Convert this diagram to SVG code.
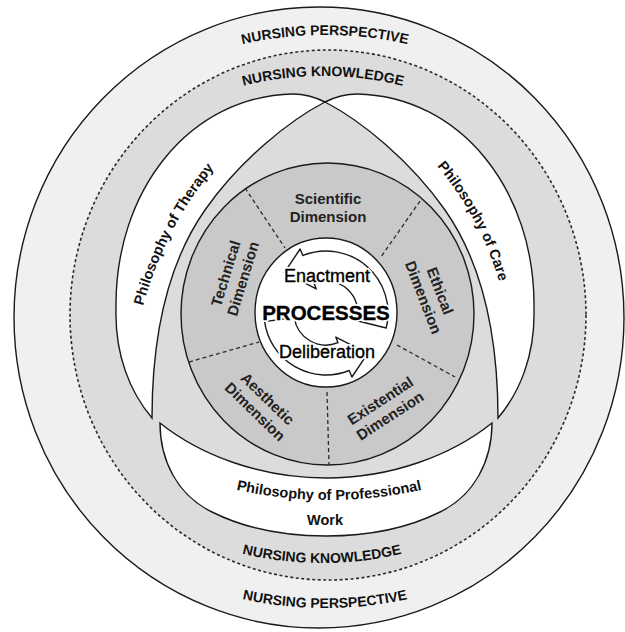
<svg xmlns="http://www.w3.org/2000/svg" width="625" height="632" viewBox="0 0 625 632">
<defs>
<style>
.ln{stroke:#1a1a1a;stroke-width:1.4;}
.dash{fill:none;stroke:#2a2a2a;stroke-width:1.3;stroke-dasharray:4 3;}
.lab{font-family:"Liberation Sans",Arial,sans-serif;font-weight:bold;font-size:14px;fill:#111;}
.phil{font-family:"Liberation Sans",Arial,sans-serif;font-weight:bold;font-size:14.5px;fill:#111;}
.dim{font-family:"Liberation Sans",Arial,sans-serif;font-weight:bold;font-size:15px;fill:#222;text-anchor:middle;}
.proc{font-family:"Liberation Sans",Arial,sans-serif;fill:#000;text-anchor:middle;stroke:#000;stroke-width:0.35;}
.halo{font-family:"Liberation Sans",Arial,sans-serif;fill:#fff;text-anchor:middle;stroke:#fff;stroke-width:4;stroke-linejoin:round;}
.arrow{fill:#fff;stroke:#1a1a1a;stroke-width:1.4;stroke-linejoin:round;}
</style>
<path id="pTopPer" d="M200,56.4 A375,375 0 0 1 450,56.4"/>
<path id="pTopKno" d="M198,100.6 A330,330 0 0 1 448,100.6"/>
<path id="pBotKno" d="M197,539.6 A345,345 0 0 0 447,539.6"/>
<path id="pBotPer" d="M200,587.3 A387,387 0 0 0 450,587.3"/>
<path id="pTher" d="M143,306 Q165,227 215,167 L240,137"/>
<path id="pCare" d="M437,166 Q484,222 502,292 L509,320"/>
<path id="pWork" d="M215,484.6 A431,431 0 0 0 443,484.6"/>
</defs>

<g id="nursing-perspective">
<ellipse cx="319" cy="317.5" rx="305" ry="310.5" fill="#f0f0f0" class="ln"/>
</g>
<g id="nursing-knowledge">
<ellipse cx="328" cy="315" rx="258" ry="265" fill="#dcdcdc" stroke="#2a2a2a" stroke-width="1.6" stroke-dasharray="3 2.5"/>
</g>

<g id="philosophy-therapy">
<path class="ln" fill="#fff" d="M152,418 C130,392 115,355 116,310 C114,190 190,96 293,94 Q309,94 325,102 C290,120 240,160 205,210 C170,260 152,330 152,418 Z"/>
</g>
<g id="philosophy-care">
<path class="ln" fill="#fff" d="M498,418 C520,392 535,355 534,310 C536,190 460,96 357,94 Q341,94 325,102 C360,120 410,160 445,210 C480,260 498,330 498,418 Z"/>
</g>
<g id="philosophy-work">
<path class="ln" fill="#fff" d="M160,423 C200,455 260,478 326,478 C392,478 452,455 492,423 C492,460 475,495 440,512 C410,527 370,536 326,536 C282,536 242,527 212,512 C177,495 160,460 160,423 Z"/>
</g>

<g id="dimensions">
<ellipse cx="327.5" cy="314" rx="146.5" ry="151" fill="#c9c9c9" class="ln"/>
<line class="dash" x1="245" y1="188" x2="285" y2="248"/>
<line class="dash" x1="420" y1="201" x2="381" y2="257"/>
<line class="dash" x1="189" y1="362" x2="259" y2="342"/>
<line class="dash" x1="397" y1="345" x2="455" y2="377"/>
<line class="dash" x1="327" y1="392" x2="329" y2="465"/>
</g>

<g id="processes">
<ellipse cx="326" cy="312.5" rx="71" ry="74.5" fill="#fff" class="ln"/>
</g>

<g id="connectors">
<path class="arrow" d="M386.2,328 A62,62 0 0 0 302.8,255.5 L300.1,249 L284.3,272.7 L316.3,288.9 L314,283.3 A32,32 0 0 1 357,320.7 Z"/>
<path class="arrow" d="M264.6,321.6 A62,62 0 0 0 349.2,370.5 L351.9,377 L367.7,353.3 L335.8,337.1 L338,342.7 A32,32 0 0 1 294.3,317.5 Z"/>
</g>

<g id="labels-perspective">
<text class="lab"><textPath href="#pTopPer" startOffset="50%" text-anchor="middle">NURSING PERSPECTIVE</textPath></text>
<text class="lab"><textPath href="#pBotPer" startOffset="50%" text-anchor="middle">NURSING PERSPECTIVE</textPath></text>
</g>
<g id="labels-knowledge">
<text class="lab"><textPath href="#pTopKno" startOffset="50%" text-anchor="middle">NURSING KNOWLEDGE</textPath></text>
<text class="lab"><textPath href="#pBotKno" startOffset="50%" text-anchor="middle">NURSING KNOWLEDGE</textPath></text>
</g>
<g id="labels-philosophy">
<text class="phil"><textPath href="#pTher">Philosophy of Therapy</textPath></text>
<text class="phil"><textPath href="#pCare">Philosophy of Care</textPath></text>
<text class="phil"><textPath href="#pWork" startOffset="50%" text-anchor="middle">Philosophy of Professional</textPath></text>
<text class="phil" x="325" y="525" text-anchor="middle">Work</text>
</g>

<g id="dim-scientific" transform="translate(328,207.5)">
<text class="dim" y="-3.5">Scientific</text><text class="dim" y="14.5">Dimension</text>
</g>
<g id="dim-technical" transform="translate(234,276) rotate(-73)">
<text class="dim" y="-3.5">Technical</text><text class="dim" y="14.5">Dimension</text>
</g>
<g id="dim-ethical" transform="translate(432,294) rotate(69)">
<text class="dim" y="-3.5">Ethical</text><text class="dim" y="14.5">Dimension</text>
</g>
<g id="dim-aesthetic" transform="translate(261.5,405) rotate(44)">
<text class="dim" y="-3.5">Aesthetic</text><text class="dim" y="14.5">Dimension</text>
</g>
<g id="dim-existential" transform="translate(385,408) rotate(-33)">
<text class="dim" y="-3.5">Existential</text><text class="dim" y="14.5">Dimension</text>
</g>

<g id="process-labels">
<text class="halo" x="327" y="282" font-size="18">Enactment</text>
<text class="proc" x="327" y="282" font-size="18">Enactment</text>
<text class="halo" x="326" y="320" font-size="20.5" font-weight="bold">PROCESSES</text>
<text class="proc" x="326" y="320" font-size="20.5" font-weight="bold">PROCESSES</text>
<text class="halo" x="327" y="358" font-size="18">Deliberation</text>
<text class="proc" x="327" y="358" font-size="18">Deliberation</text>
</g>
</svg>
